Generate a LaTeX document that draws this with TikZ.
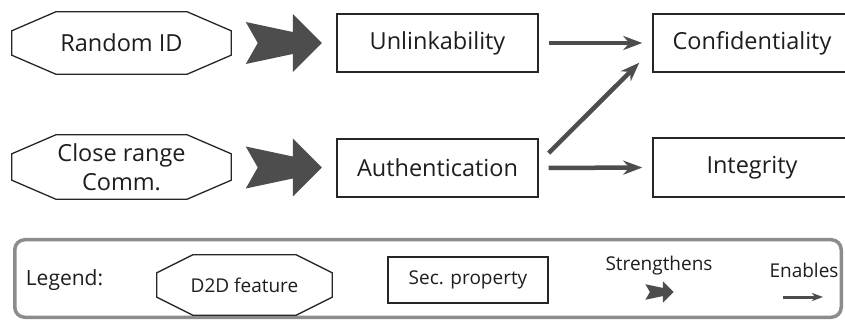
\documentclass[tikz,border=0pt]{standalone}
\usepackage{fontspec}
\setmainfont{Open Sans}
\usetikzlibrary{arrows.meta,calc}
\definecolor{arrgray}{RGB}{77,77,77}
\definecolor{leggray}{RGB}{140,140,140}
\definecolor{txt}{RGB}{30,30,30}
\begin{document}
\begin{tikzpicture}[x=1pt,y=-1pt,
  mainfont/.style={font=\fontsize{23.5}{29}\selectfont, text=txt},
  smallfont/.style={font=\fontsize{19}{22}\selectfont, text=txt},
  box/.style={draw=black!85, line width=1.4pt, minimum width=201pt, minimum height=58pt, inner sep=0pt, align=center, mainfont},
  octn/.style={minimum width=219pt, minimum height=62pt, inner sep=0pt, align=center, mainfont},
  octline/.style={draw=black!85, line width=1.3pt, line join=miter},
  enab/.style={draw=arrgray, line width=4.5pt, -{Stealth[length=19pt,width=14pt,inset=6pt]}},
  smallenab/.style={draw=arrgray, line width=3pt, -{Stealth[length=11pt,width=8pt,inset=3pt]}},
  strong/.pic={\fill[arrgray] (-38,-21) -- (9,-11) -- (9,-29) -- (38,0) -- (9,29) -- (9,11) -- (-38,21) -- (-26,0) -- cycle;}
]
\useasboundingbox (0,0) rectangle (845,320);
\clip (0,0) rectangle (845,320);
\fill[white] (0,0) rectangle (845,320);

% features
\node[octn] (rid) at (121.5,43) {Random ID};
\node[octn, minimum height=64pt] (crc) at (121.5,167) {Close range\\Comm.};
% properties
\node[box] (unl) at (437.5,43) {Unlinkability};
\node[box] (auth) at (437.5,168) {Authentication};
\node[box, minimum width=198pt] (conf) at (752,43) {Confidentiality};
\node[box, minimum width=198pt, minimum height=59pt] (integ) at (752,167.5) {Integrity};

% strengthens arrows
\path ($(rid.east)!0.5!(unl.west)$) pic {strong};
\path ($(crc.east)!0.5!(auth.west)$) pic {strong};

% enables arrows
\draw[enab, shorten <=10pt, shorten >=10pt] (unl.east) -- (conf.west);
\draw[enab, shorten <=10pt, shorten >=10pt] (auth.east) -- (integ.west);
\draw[enab] ([xshift=10pt,yshift=15pt]auth.east) -- ([xshift=-13pt,yshift=10pt]conf.south west);

% legend
\node[draw=leggray, line width=3.5pt, rounded corners=10pt, minimum width=826.5pt, minimum height=77.5pt] (legbox) at (428,278.5) {};
\node[font=\fontsize{21}{24}\selectfont, text=txt] (legt) at (64.5,280) {Legend:};
\node[octn, minimum width=175pt, minimum height=60pt, smallfont] (lf) at (244.5,285) {D2D feature};
\node[box, minimum width=160pt, minimum height=46pt, line width=1.2pt, smallfont] (sp) at (468,280) {Sec. property};
\node[smallfont, anchor=base] (strt) at (659,270) {Strengthens};
\node[smallfont, anchor=base] (enat) at (804,277) {Enables};
\path (659.5,292) pic[scale=0.37] {strong};
\coordinate (ea) at (783,297);
\coordinate (eb) at (823,297);
\draw[smallenab] (ea) -- (eb);

% octagon outlines
\foreach \n/\cx/\cy in {rid/44/19, crc/44/19, lf/36/18} {
  \draw[octline] ([xshift=\cx pt]\n.north west) -- ([xshift=-\cx pt]\n.north east)
    -- ([yshift=-\cy pt]\n.north east) -- ([yshift=\cy pt]\n.south east)
    -- ([xshift=-\cx pt]\n.south east) -- ([xshift=\cx pt]\n.south west)
    -- ([yshift=\cy pt]\n.south west) -- ([yshift=-\cy pt]\n.north west) -- cycle;
}
\end{tikzpicture}
\end{document}
